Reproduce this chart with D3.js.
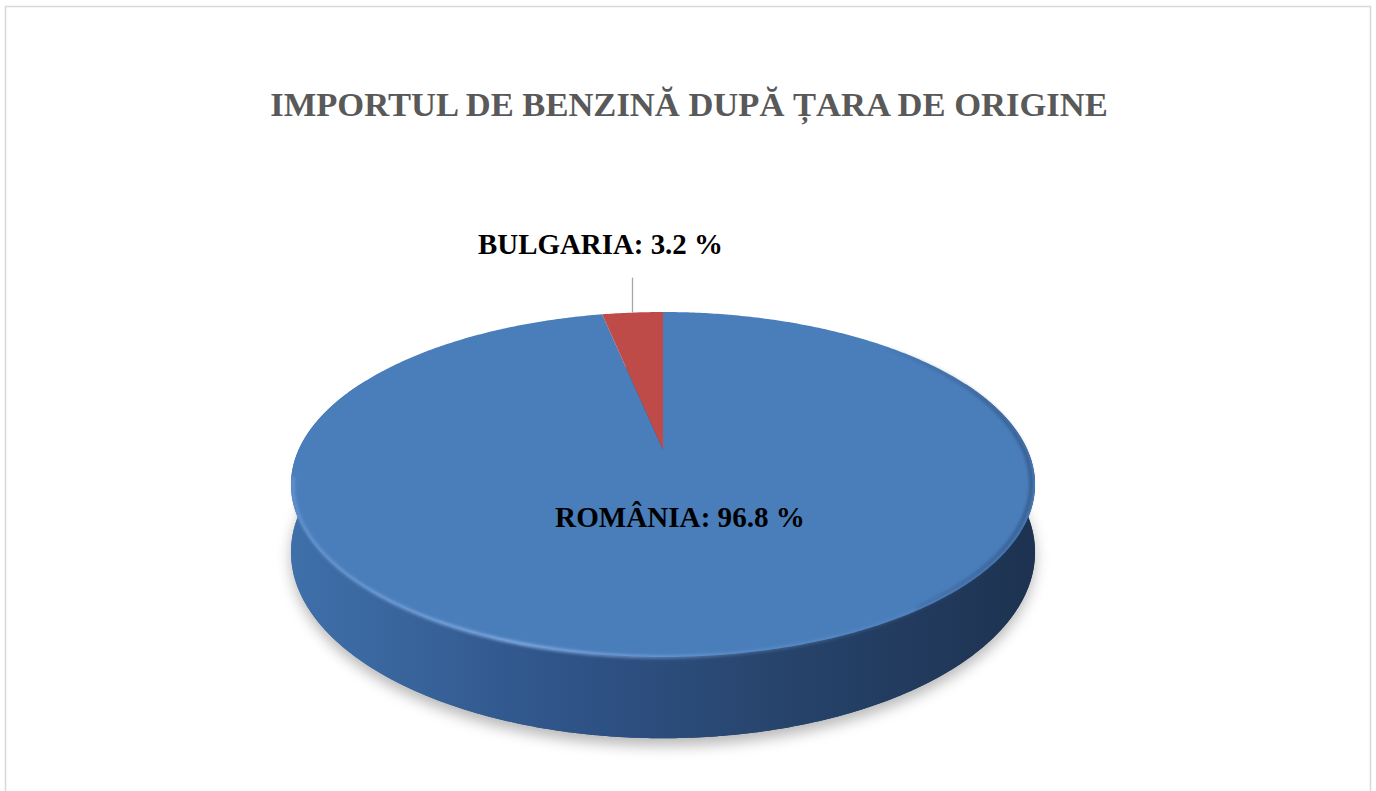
<!DOCTYPE html>
<html>
<head>
<meta charset="utf-8">
<script src="https://cdn.jsdelivr.net/npm/d3@7"></script>
<style>
  html, body { margin: 0; padding: 0; background: #fff; }
  svg { display: block; }
</style>
</head>
<body>
<div id="chart"></div>
<script>
const titleText = "IMPORTUL DE BENZINĂ DUPĂ ȚARA DE ORIGINE";
const countries = ["ROMÂNIA", "BULGARIA"];
const shares = [96.8, 3.2];
const sliceColors = ["#4a7ebb", "#be4b48"];

const width = 1376;
const height = 791;

// 3d pie geometry (perspective ellipse)
const cx = 663, cy = 450;
const rx = 364.5, ry = 165.6;
const persp = 0.2;
const depth = 65;

function project(theta, r, h) {
    // theta: clockwise from 12 o'clock, r: radius fraction, h: drop in px
    const X = r * Math.sin(theta), Z = -r * Math.cos(theta);
    const s = 1 / (1 - persp * Z);
    return [cx + rx * X * s, cy + (ry * Z + h) * s];
}

function arcPoints(a0, a1, r, h) {
    const n = Math.max(4, Math.ceil(Math.abs(a1 - a0) / 0.01));
    return d3.range(n + 1).map(i => project(a0 + (a1 - a0) * i / n, r, h));
}

const line = d3.line();

const svg = d3.select("#chart").append("svg")
    .attr("width", width)
    .attr("height", height)
    .style("font-family", "'Liberation Serif', 'Times New Roman', serif");

const defs = svg.append("defs");

const sideGrad = defs.append("linearGradient")
    .attr("id", "sideGrad")
    .attr("gradientUnits", "userSpaceOnUse")
    .attr("x1", cx - rx * 1.03).attr("x2", cx + rx * 1.03)
    .attr("y1", 0).attr("y2", 0);
sideGrad.append("stop").attr("offset", "0%").attr("stop-color", "#3f70aa");
sideGrad.append("stop").attr("offset", "35%").attr("stop-color", "#30558a");
sideGrad.append("stop").attr("offset", "65%").attr("stop-color", "#27446c");
sideGrad.append("stop").attr("offset", "100%").attr("stop-color", "#1d3250");

const hiGrad = defs.append("linearGradient")
    .attr("id", "hiGrad")
    .attr("gradientUnits", "userSpaceOnUse")
    .attr("x1", cx - rx).attr("x2", cx + rx)
    .attr("y1", 0).attr("y2", 0);
hiGrad.append("stop").attr("offset", "0%").attr("stop-color", "#8fb8ec").attr("stop-opacity", 0.4);
hiGrad.append("stop").attr("offset", "30%").attr("stop-color", "#8fb8ec").attr("stop-opacity", 0.9);
hiGrad.append("stop").attr("offset", "60%").attr("stop-color", "#8fb8ec").attr("stop-opacity", 0.3);
hiGrad.append("stop").attr("offset", "100%").attr("stop-color", "#8fb8ec").attr("stop-opacity", 0);

const rimGrad = defs.append("linearGradient")
    .attr("id", "rimGrad")
    .attr("gradientUnits", "userSpaceOnUse")
    .attr("x1", cx + rx * 0.55).attr("x2", cx + rx)
    .attr("y1", 0).attr("y2", 0);
rimGrad.append("stop").attr("offset", "0%").attr("stop-color", "#2a4a74").attr("stop-opacity", 0);
rimGrad.append("stop").attr("offset", "100%").attr("stop-color", "#2a4a74").attr("stop-opacity", 0.6);

defs.append("filter").attr("id", "shadowBlur")
    .attr("x", "-20%").attr("y", "-20%").attr("width", "140%").attr("height", "140%")
  .append("feGaussianBlur").attr("stdDeviation", 7);
defs.append("filter").attr("id", "softBlur")
    .attr("x", "-10%").attr("y", "-10%").attr("width", "120%").attr("height", "120%")
  .append("feGaussianBlur").attr("stdDeviation", 1.5);

// outer chart border
svg.append("rect")
    .attr("x", 5.5).attr("y", 6.5)
    .attr("width", 1365).attr("height", 820)
    .attr("fill", "#fff")
    .attr("stroke", "#d9d9d9")
    .attr("stroke-width", 1.5);

// title
const title = svg.append("text")
    .attr("x", 689).attr("y", 116)
    .attr("text-anchor", "middle")
    .attr("font-weight", "bold")
    .attr("fill", "#595959")
    .style("font-size", "36px")
    .text(titleText);
fitWidth(title, 838);

function fitWidth(sel, target) {
    const fs = parseFloat(sel.style("font-size"));
    const w = sel.node().getComputedTextLength();
    sel.style("font-size", (fs * target / w) + "px");
}

const pie = d3.pie().sort(null).startAngle(0).endAngle(2 * Math.PI);
const arcs = pie(shares);

const full = 2 * Math.PI;

// shadow under the disk
svg.append("path")
    .attr("d", line(arcPoints(0, full, 1.0, depth + 6)) + "Z")
    .attr("fill", "#000")
    .attr("fill-opacity", 0.28)
    .attr("filter", "url(#shadowBlur)");

// bottom face and side wall
svg.append("path")
    .attr("d", line(arcPoints(0, full, 1, depth)) + "Z")
    .attr("fill", "url(#sideGrad)");

const wa = Math.PI / 2 - 0.45, wb = 1.5 * Math.PI + 0.45;
const wall = arcPoints(wa, wb, 1, 0).concat(arcPoints(wb, wa, 1, depth));
svg.append("path")
    .attr("d", line(wall) + "Z")
    .attr("fill", "url(#sideGrad)");

// top faces of the slices
svg.selectAll("path.slice")
    .data(arcs)
    .join("path")
      .attr("class", "slice")
      .attr("d", d => line([project(0, 0, 0)].concat(arcPoints(d.startAngle, d.endAngle, 1, 0))) + "Z")
      .attr("fill", (d, i) => sliceColors[i]);

// bevel highlight along the front rim
svg.append("path")
    .attr("d", line(arcPoints(Math.PI * 0.62, Math.PI * 1.45, 0.995, 1)))
    .attr("fill", "none")
    .attr("stroke", "url(#hiGrad)")
    .attr("stroke-width", 3)
    .attr("filter", "url(#softBlur)");

// darker rim on the right side of the top face
svg.append("path")
    .attr("d", line(arcPoints(Math.PI * 0.25, Math.PI * 0.8, 0.99, 0)))
    .attr("fill", "none")
    .attr("stroke", "url(#rimGrad)")
    .attr("stroke-width", 4)
    .attr("filter", "url(#softBlur)");

// Bulgaria label with leader line
const bg = arcs[1];
const bgMid = (bg.startAngle + bg.endAngle) / 2;
const bgRim = project(bgMid, 1, 0);
svg.append("line")
    .attr("x1", bgRim[0]).attr("x2", bgRim[0])
    .attr("y1", bgRim[1]).attr("y2", bgRim[1] - 35)
    .attr("stroke", "#a6a6a6")
    .attr("stroke-width", 1.3);

const bgLabel = svg.append("text")
    .attr("x", bgRim[0] - 32).attr("y", 254)
    .attr("text-anchor", "middle")
    .attr("font-weight", "bold")
    .attr("fill", "#000")
    .style("font-size", "28px")
    .text(`${countries[1]}: ${shares[1]} %`);
fitWidth(bgLabel, 245);

// Romania label inside the slice
const ro = arcs[0];
const roPos = project((ro.startAngle + ro.endAngle) / 2, 0.38, 0);
const roLabel = svg.append("text")
    .attr("x", roPos[0] + 2).attr("y", 527)
    .attr("text-anchor", "middle")
    .attr("font-weight", "bold")
    .attr("fill", "#000")
    .style("font-size", "28px")
    .text(`${countries[0]}: ${shares[0]} %`);
fitWidth(roLabel, 250);
</script>
</body>
</html>
